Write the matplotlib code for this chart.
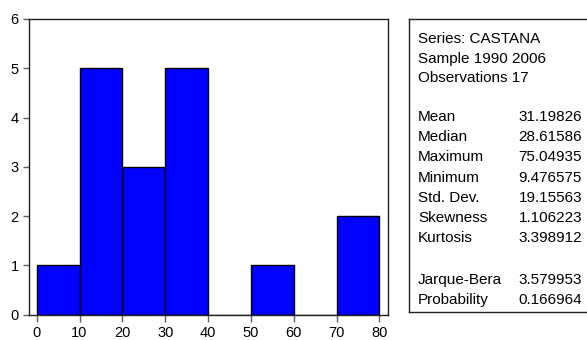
import matplotlib.pyplot as plt

plt.rcParams['font.family'] = ['Liberation Sans', 'DejaVu Sans']

bin_edges = [0, 10, 20, 30, 40, 50, 60, 70, 80]
counts = [1, 5, 3, 5, 0, 1, 0, 2]

x_ticks = [0, 10, 20, 30, 40, 50, 60, 70, 80]
y_ticks = [0, 1, 2, 3, 4, 5, 6]

header = ["Series: CASTANA", "Sample 1990 2006", "Observations 17"]
stat_names = ["Mean", "Median", "Maximum", "Minimum", "Std. Dev.", "Skewness", "Kurtosis"]
stat_values = ["31.19826", "28.61586", "75.04935", "9.476575", "19.15563", "1.106223", "3.398912"]
test_names = ["Jarque-Bera", "Probability"]
test_values = ["3.579953", "0.166964"]

fig = plt.figure(figsize=(5.87, 3.40), dpi=100)
W, H = 587, 340

# histogram panel
ax = fig.add_axes([29 / W, 1 - 315 / H, (388 - 29) / W, (315 - 19) / H])
ax.bar(bin_edges[:-1], counts, width=10, align='edge',
       color='#0000ff', edgecolor='black', linewidth=1)
ax.set_xlim(-1.8, 82)
ax.set_ylim(-0.01, 6)
ax.set_xticks(x_ticks)
ax.set_yticks(y_ticks)
ax.tick_params(labelsize=10.5, length=4, color='#606060', width=1)
ax.tick_params(axis='x', length=5, pad=3)
for s in ax.spines.values():
    s.set_linewidth(1)
    s.set_color('#202020')

# statistics box
box = fig.add_axes([409 / W, 1 - 312 / H, (590 - 409) / W, (312 - 19) / H])
box.set_xticks([])
box.set_yticks([])
for s in box.spines.values():
    s.set_linewidth(1)
    s.set_color('#202020')


def put(text, x, y, ha='left'):
    fig.text(x / W, 1 - y / H, text, ha=ha, va='center', fontsize=11)


y = 39
for line in header:
    put(line, 418, y)
    y += 19.6
y = 117
for name, val in zip(stat_names, stat_values):
    put(name, 418, y)
    put(val, 582, y, ha='right')
    y += 20.2
y = 280
for name, val in zip(test_names, test_values):
    put(name, 418, y)
    put(val, 582, y, ha='right')
    y += 20.2

fig.savefig("out.png", dpi=100)
